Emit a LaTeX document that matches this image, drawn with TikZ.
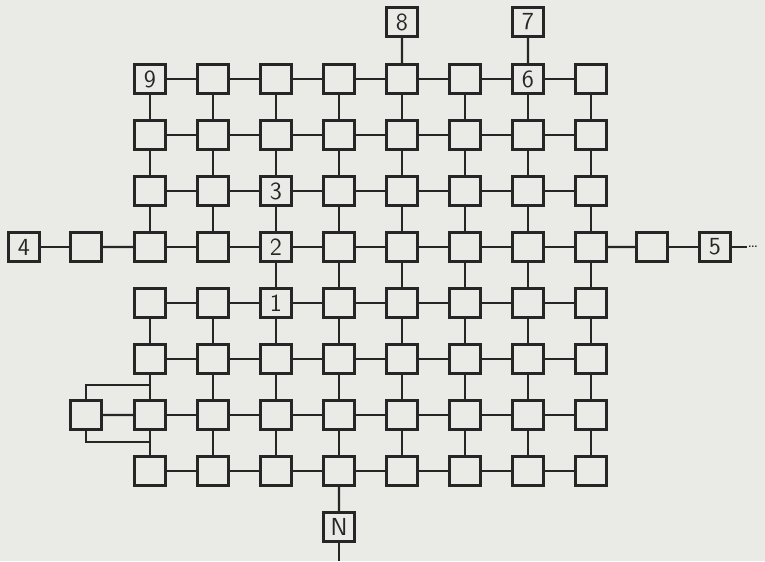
\documentclass[tikz,border=0pt]{standalone}
\usepackage{xcolor}
\usepackage{tikz}
\usetikzlibrary{positioning, calc}
\definecolor{Ink}{HTML}{262626}
\definecolor{Paper}{HTML}{EAEAE7}

\begin{document}
\begin{tikzpicture}[
        x=1cm,
        y=1cm,
        font=\sffamily\fontsize{14}{16}\selectfont,
        link/.style={draw=Ink, line width=1.25pt},
        cell/.style={draw=Ink, fill=Paper, line width=1.25pt, minimum width=0.62cm, minimum height=0.58cm, inner sep=0pt, text=Ink},
        tag/.style={inner sep=0pt, text=Ink}
      ]
        \fill[Paper] (0,0) rectangle (15.3,11.22);
        \useasboundingbox (0,0) rectangle (15.3,11.22);

        % 8 x 8 grid, row 0 at the top
        \foreach \r in {0,...,7}
          \foreach \c in {0,...,7}
            \node[cell] (g\r\c) at ({3.0+1.26*\c},{9.64-1.12*\r}) {};

        \foreach \r/\c/\t in {0/0/9, 0/6/6, 2/2/3, 3/2/2, 4/2/1}
          \node[tag] (t\r\c) at (g\r\c) {\t};

        \node[cell] (eight) at (8.04,10.78) {8};
        \node[cell] (seven) at (10.56,10.78) {7};
        \node[cell] (four) at (0.48,6.28) {4};
        \node[cell] (west) at (1.72,6.28) {};
        \node[cell] (east) at (13.04,6.28) {};
        \node[cell] (five) at (14.30,6.28) {5};
        \node[cell] (spur) at (1.72,2.92) {};
        \node[cell] (north) at (6.78,0.68) {N};

        \coordinate (fiveout) at (14.94,6.28);
        \coordinate (northout) at (6.78,0);
        \coordinate (jtop) at (3.0,3.52);
        \coordinate (jbot) at (3.0,2.38);

        % rows
        \foreach \r in {0,...,7}
          \foreach \c [count=\n from 1] in {0,...,6}
            \draw[link] (g\r\c) -- (g\r\n);

        % columns (no link under the first two cells of row 3)
        \foreach \c in {0,...,7}
          \foreach \r/\n in {0/1, 1/2, 2/3, 4/5, 5/6, 6/7}
            \draw[link] (g\r\c) -- (g\n\c);
        \foreach \c in {2,...,7}
          \draw[link] (g3\c) -- (g4\c);

        \draw[link] (eight) -- (g04);
        \draw[link] (seven) -- (g06);
        \draw[link] (four) -- (west);
        \draw[link] (west) -- (g30);
        \draw[link] (g37) -- (east);
        \draw[link] (east) -- (five);
        \draw[link] (five) -- (fiveout);
        \node[tag, anchor=west] (fivedots) at (fiveout) {\normalsize\dots};
        \draw[link] (g73) -- (north);
        \draw[link] (north) -- (northout);

        \draw[link] (spur) -- (g60);
        \draw[link] (spur.north) |- (jtop);
        \draw[link] (spur.south) |- (jbot);
      \end{tikzpicture}
\end{document}
